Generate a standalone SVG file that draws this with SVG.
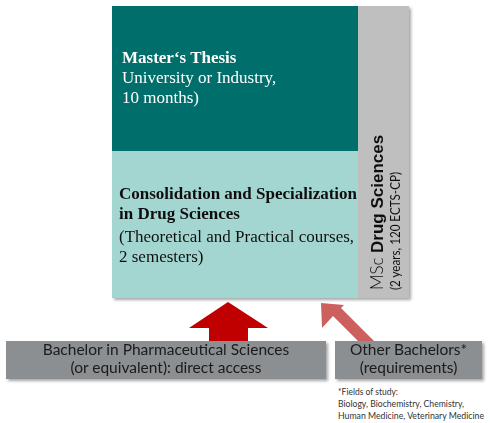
<svg xmlns="http://www.w3.org/2000/svg" width="490" height="423" viewBox="0 0 490 423">
<defs>
<filter id="sh" x="-10%" y="-10%" width="130%" height="130%">
<feDropShadow dx="2" dy="2" stdDeviation="1.5" flood-color="#000" flood-opacity="0.35"/>
</filter>
</defs>
<style>
.serif{font-family:"Liberation Serif","Times New Roman",serif;font-size:17px}
.b{font-weight:bold}
.sans{font-family:Lato,"Liberation Sans",sans-serif}
.box{font-family:Lato,"Liberation Sans",sans-serif;font-size:15.5px;fill:#1a1a1a;text-anchor:middle}
</style>
<rect width="490" height="423" fill="#fff"/>
<g id="connectors">
<polygon id="arrow-direct" points="228,302 268,328 248,328 248,343 209,343 209,328 189,328" fill="#C00000"/>
<polygon id="arrow-other" points="321,303 344,305 341,308 383,350 367,350 333,316 322,328" fill="#CB605F"/>
</g>
<g id="program" filter="url(#sh)">
<g id="thesis">
<rect x="112" y="6" width="246" height="145" fill="#006E6B"/>
<text class="serif" fill="#fff" x="122"><tspan class="b" x="122" y="63">Master‘s Thesis</tspan><tspan x="122" y="83">University or Industry,</tspan><tspan x="122" y="103">10 months)</tspan></text>
</g>
<g id="consolidation">
<rect x="112" y="151" width="246" height="147" fill="#A4D6D1"/>
<text class="serif" fill="#111" x="119"><tspan class="b" x="119" y="199">Consolidation and Specialization</tspan><tspan class="b" x="119" y="219">in Drug Sciences</tspan><tspan x="119" y="242">(Theoretical and Practical courses,</tspan><tspan x="119" y="262">2 semesters)</tspan></text>
</g>
<g id="msc">
<rect x="358" y="6" width="51" height="292" fill="#BFBFBF"/>
<g transform="translate(383,290) rotate(-90)">
<text font-size="17" fill="#111"><tspan class="sans" font-weight="300">MSc </tspan><tspan font-family="Liberation Sans,Arial,sans-serif" font-weight="bold">Drug Sciences</tspan></text>
</g>
<g transform="translate(400,290) rotate(-90)">
<text class="sans" font-size="14" fill="#111" textLength="118" lengthAdjust="spacingAndGlyphs">(2 years, 120 ECTS-CP)</text>
</g>
</g>
</g>
<g id="bachelor" filter="url(#sh)">
<rect x="6" y="341" width="320" height="38" fill="#8B8F92"/>
<text class="box"><tspan x="166" y="355">Bachelor in Pharmaceutical Sciences</tspan><tspan x="166" y="373">(or equivalent): direct access</tspan></text>
</g>
<g id="other" filter="url(#sh)">
<rect x="335" y="341" width="147" height="38" fill="#8B8F92"/>
<text class="box"><tspan x="408.5" y="355">Other Bachelors*</tspan><tspan x="408.5" y="373">(requirements)</tspan></text>
</g>
<g id="footnote" class="sans" font-size="9" fill="#333">
<text x="338" y="395" textLength="60" lengthAdjust="spacingAndGlyphs">*Fields of study:</text>
<text x="338" y="407" textLength="126" lengthAdjust="spacingAndGlyphs">Biology, Biochemistry, Chemistry,</text>
<text x="338" y="419" textLength="146" lengthAdjust="spacingAndGlyphs">Human Medicine, Veterinary Medicine</text>
</g>
</svg>
